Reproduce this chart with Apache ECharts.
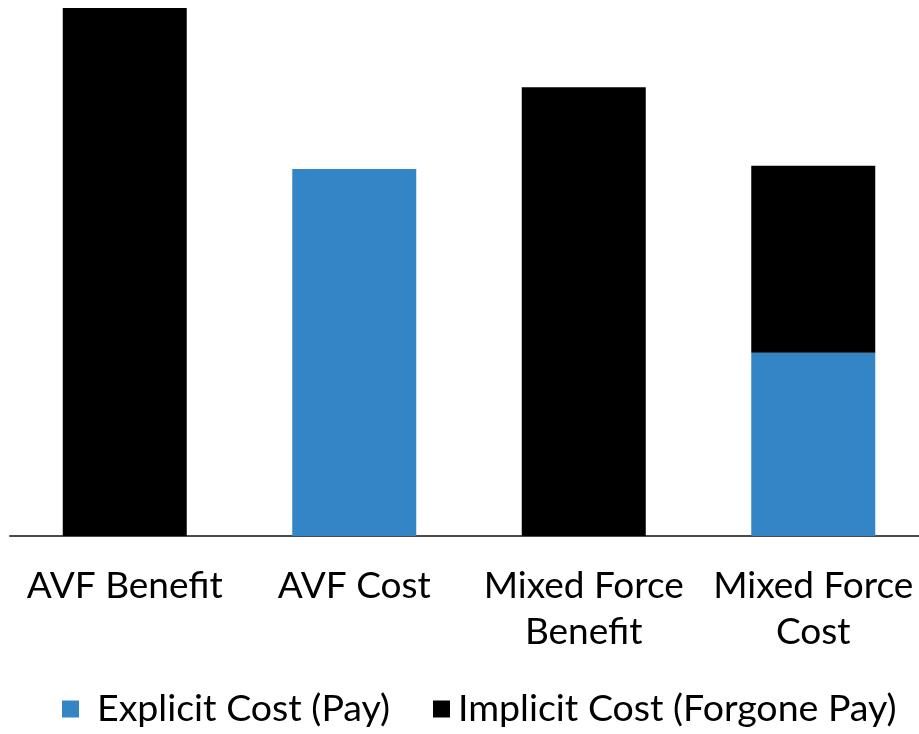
<!DOCTYPE html>
<html>
<head>
<meta charset="utf-8">
<script src="https://cdn.jsdelivr.net/npm/echarts@6/dist/echarts.min.js"></script>
<style>
html,body{margin:0;padding:0;background:#fff;}
#chart{width:919px;height:734px;}
</style>
</head>
<body>
<div id="chart"></div>
<script>
var categories = ['AVF Benefit', 'AVF Cost', 'Mixed Force\nBenefit', 'Mixed Force\nCost'];
var explicitCost = [0, 69.5, 0, 34.7];
var implicitCost = [100, 0, 85.0, 35.4];
var seriesNames = ['Explicit Cost (Pay)', 'Implicit Cost (Forgone Pay)'];

var FONT = 'Lato';
var chart = echarts.init(document.getElementById('chart'), null, {renderer: 'canvas'});
function legendCfg(name, left, pad) {
  return {
    top: 685,
    left: left,
    itemWidth: 17,
    itemHeight: 17,
    icon: 'rect',
    textStyle: {fontFamily: FONT, fontSize: 37.5, color: '#000', padding: [0, 0, 0, pad]},
    data: [name]
  };
}
chart.setOption({
  animation: false,
  backgroundColor: '#ffffff',
  grid: {left: 10, width: 918, top: 8, bottom: 198, containLabel: false, outerBoundsMode: 'none'},
  legend: [
    legendCfg(seriesNames[0], 57, 13),
    legendCfg(seriesNames[1], 428, 3)
  ],
  xAxis: {
    type: 'category',
    data: categories,
    axisLine: {show: true, lineStyle: {color: '#4a4a4a', width: 2}},
    axisTick: {show: false},
    axisLabel: {fontFamily: FONT, fontSize: 37, color: '#000', margin: 27, lineHeight: 46, interval: 0}
  },
  yAxis: {
    type: 'value',
    min: 0,
    max: 100,
    show: false,
    splitLine: {show: false}
  },
  series: [
    {
      name: seriesNames[0],
      type: 'bar',
      stack: 'total',
      barWidth: 124,
      itemStyle: {color: '#3385c6'},
      data: explicitCost
    },
    {
      name: seriesNames[1],
      type: 'bar',
      stack: 'total',
      barWidth: 124,
      itemStyle: {color: '#000000'},
      data: implicitCost
    }
  ]
});
</script>
</body>
</html>
